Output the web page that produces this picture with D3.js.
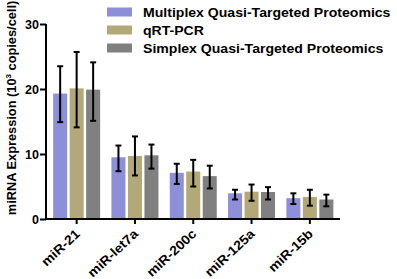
<!DOCTYPE html>
<html><head><meta charset="utf-8">
<script src="https://cdn.jsdelivr.net/npm/d3@7"></script>
<style>body{margin:0;background:#fff}svg{display:block}text{font-family:Arial,"Liberation Sans",sans-serif;font-weight:bold}</style>
</head><body><svg id="c" width="397" height="279"></svg>
<script>
const categories = ["miR-21","miR-let7a","miR-200c","miR-125a","miR-15b"];
const seriesNames = ["Multiplex Quasi-Targeted Proteomics","qRT-PCR","Simplex Quasi-Targeted Proteomics"];
const seriesColors = ["#8d90d8","#b2a878","#808080"];
const multiplexVals = [19.3, 9.5, 7.1, 3.95, 3.2];
const multiplexLo = [14.9, 7.35, 5.4, 3.0, 2.3];
const multiplexHi = [23.5, 11.3, 8.5, 4.5, 3.95];
const qpcrVals = [20.1, 9.7, 7.3, 4.2, 3.4];
const qpcrLo = [14.1, 6.7, 5.0, 2.8, 2.05];
const qpcrHi = [25.7, 12.7, 9.1, 5.3, 4.5];
const simplexVals = [19.9, 9.8, 6.6, 4.15, 3.0];
const simplexLo = [15.1, 7.75, 4.7, 3.0, 1.95];
const simplexHi = [24.1, 11.45, 8.2, 4.9, 3.75];
const yTicks = [0, 10, 20, 30];

const series = [
  {v: multiplexVals, lo: multiplexLo, hi: multiplexHi},
  {v: qpcrVals, lo: qpcrLo, hi: qpcrHi},
  {v: simplexVals, lo: simplexLo, hi: simplexHi}
];

const svg = d3.select("#c");
const y = d3.scaleLinear().domain([0, 30]).range([219, 24]);
const x0 = d3.scaleBand().domain(categories).range([47.5, 339]).padding(0);
const x1 = d3.scaleBand().domain([0,1,2]).range([-23.5, 23.5]).paddingInner(0.15).paddingOuter(0);

const g = svg.append("g");
categories.forEach((c, i) => {
  series.forEach((s, j) => {
    const cx = x0(c) + x0.bandwidth()/2;
    const bx = cx + x1(j);
    g.append("rect").attr("x", bx).attr("width", x1.bandwidth())
      .attr("y", y(s.v[i])).attr("height", y(0) - y(s.v[i]))
      .attr("fill", seriesColors[j]);
    const ex = bx + x1.bandwidth()/2;
    g.append("line").attr("x1", ex).attr("x2", ex).attr("y1", y(s.lo[i])).attr("y2", y(s.hi[i]))
      .attr("stroke", "#000").attr("stroke-width", 2);
    [s.lo[i], s.hi[i]].forEach(val => {
      g.append("line").attr("x1", ex-3).attr("x2", ex+3).attr("y1", y(val)).attr("y2", y(val))
        .attr("stroke", "#000").attr("stroke-width", 2);
    });
  });
});

// Y axis
const yAxis = svg.append("g").attr("transform", "translate(46,0)")
  .call(d3.axisLeft(y).tickValues(yTicks).tickSize(6).tickPadding(1).tickFormat(d3.format("d")));
yAxis.select(".domain").attr("stroke-width", 2).attr("d", `M0,${y(30)}V${y(0)+1}`);
yAxis.selectAll(".tick line").attr("stroke-width", 2);
yAxis.selectAll(".tick text").attr("font-size", 12.5).attr("font-weight", "bold").attr("fill", "#000");

// X axis
const xAxis = svg.append("g").attr("transform", `translate(0,${y(0)})`)
  .call(d3.axisBottom(x0).tickSize(5).tickSizeOuter(0));
xAxis.select(".domain").attr("stroke-width", 2).attr("d", "M45,0H340");
xAxis.selectAll(".tick line").attr("stroke-width", 2);
xAxis.selectAll(".tick text").attr("font-size", 13).attr("font-weight", "bold").attr("fill", "#000")
  .attr("text-anchor", "end").attr("dy", 0).attr("y", 0)
  .attr("transform", "translate(4,16) rotate(-43) scale(1.08,1)");

// Y label
svg.append("text").attr("transform", "translate(15.5,108) rotate(-90)")
  .attr("text-anchor", "middle").attr("font-size", 12.8)
  .html('miRNA Expression (10<tspan dy="-5" font-size="8">3</tspan><tspan dy="5"> copies/cell)</tspan>');

// Legend
seriesNames.forEach((n, j) => {
  const ly = 12 + j * 18;
  svg.append("rect").attr("x", 107).attr("y", ly - 4.5).attr("width", 25).attr("height", 9).attr("fill", seriesColors[j]);
  svg.append("text").attr("transform", `translate(143,${ly}) scale(1.1,1)`).attr("dy", "0.36em").attr("font-size", 12.8).text(n);
});
</script></body></html>
